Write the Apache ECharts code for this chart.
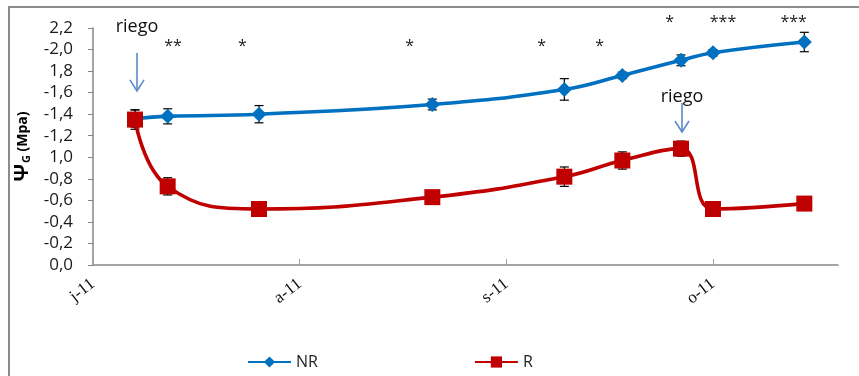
<!DOCTYPE html>
<html>
<head>
<meta charset="utf-8">
<script src="https://cdn.jsdelivr.net/npm/echarts@6/dist/echarts.min.js"></script>
<style>
  html, body { margin: 0; padding: 0; background: #fff; }
  #chart { width: 859px; height: 376px; }
</style>
</head>
<body>
<div id="chart"></div>
<script>
// Sampling dates, as days counted from 1 July 2011
const days = [6.3, 11.2, 24.9, 50.9, 70.7, 79.4, 88.2, 93.0, 106.7];

// Stem water potential (shown as positive MPa) and its error
const nrValues = [1.36, 1.38, 1.40, 1.49, 1.63, 1.76, 1.90, 1.97, 2.07];
const nrErrors = [0.08, 0.07, 0.08, 0.05, 0.10, 0.03, 0.05, 0.03, 0.09];
const rValues  = [1.35, 0.73, 0.52, 0.63, 0.82, 0.97, 1.08, 0.52, 0.57];
const rErrors  = [0.09, 0.08, 0.03, 0.03, 0.09, 0.08, 0.07, 0.03, 0.03];

// Month ticks (days from 1 July) and their labels
const monthTicks = [0, 31, 62, 93];
const monthLabels = ['j-11', 'a-11', 's-11', 'o-11'];

// Y tick labels, from 0 upwards in steps of 0.2
const yTickLabels = ['0,0', '-0,2', '-0,4', '-0,6', '-0,8', '1,0', '-1,2', '-1,4', '-1,6', '1,8', '-2,0', '2,2'];

// Significance marks: [day, level, text]
const sigMarks = [
  [12.0, 2.033, '**'],
  [22.4, 2.033, '*'],
  [47.5, 2.033, '*'],
  [67.3, 2.033, '*'],
  [76.0, 2.033, '*'],
  [86.5, 2.247, '*'],
  [94.5, 2.247, '***'],
  [105.1, 2.247, '***']
];

// Irrigation events: [day, arrow top, arrow tip, label level]
const irrigation = [
  [6.6, 1.968, 1.616, 2.21],
  [88.35, 1.504, 1.235, 1.56]
];

const SANS = '"Open Sans", sans-serif';
const SERIF = '"Liberation Serif", serif';
const BLUE = '#0070C0';
const RED = '#C00000';

function errorData(values, errors) {
  return days.map((d, i) => [d, values[i] - errors[i], values[i] + errors[i]]);
}

function renderErrorBar(params, api) {
  const x = api.value(0);
  const lo = api.coord([x, api.value(1)]);
  const hi = api.coord([x, api.value(2)]);
  const cap = 4.5;
  const style = { stroke: '#000', lineWidth: 1.2 };
  return {
    type: 'group',
    children: [
      { type: 'line', shape: { x1: lo[0], y1: lo[1], x2: hi[0], y2: hi[1] }, style },
      { type: 'line', shape: { x1: lo[0] - cap, y1: lo[1], x2: lo[0] + cap, y2: lo[1] }, style },
      { type: 'line', shape: { x1: hi[0] - cap, y1: hi[1], x2: hi[0] + cap, y2: hi[1] }, style }
    ]
  };
}

function renderSig(params, api) {
  const p = api.coord([api.value(0), api.value(1)]);
  return {
    type: 'text',
    x: p[0], y: p[1],
    style: {
      text: sigMarks[params.dataIndex][2],
      fill: '#222', font: '16px ' + SANS,
      align: 'center', verticalAlign: 'middle'
    }
  };
}

function renderIrrigation(params, api) {
  const x = api.value(0);
  const top = api.coord([x, api.value(1)]);
  const tip = api.coord([x, api.value(2)]);
  const lab = api.coord([x, api.value(3)]);
  const arrowStyle = { stroke: '#5B8BC9', lineWidth: 1.6, fill: null };
  return {
    type: 'group',
    children: [
      { type: 'line', shape: { x1: top[0], y1: top[1], x2: tip[0], y2: tip[1] }, style: arrowStyle },
      { type: 'polyline', shape: { points: [[tip[0] - 7, tip[1] - 11], [tip[0], tip[1]], [tip[0] + 7, tip[1] - 11]] }, style: arrowStyle },
      { type: 'text', x: lab[0], y: lab[1], style: {
          text: 'riego', fill: '#111', font: '18px ' + SANS,
          align: 'center', verticalAlign: 'middle' } }
    ]
  };
}

const chart = echarts.init(document.getElementById('chart'), null, { renderer: 'canvas' });

chart.setOption({
  backgroundColor: '#fff',
  animation: false,
  graphic: [{
    type: 'rect',
    shape: { x: 9, y: 7, width: 870, height: 400 },
    style: { fill: null, stroke: '#8c8c8c', lineWidth: 2 },
    silent: true
  }],
  grid: { left: 93, right: 21, top: 28, bottom: 111 },
  legend: {
    data: ['NR', 'R'],
    left: 242, top: 349,
    itemWidth: 43, itemHeight: 14, itemGap: 156,
    textStyle: { fontFamily: SANS, fontSize: 16, color: '#222' }
  },
  xAxis: {
    type: 'value',
    min: 0, max: 111.75,
    splitLine: { show: false },
    axisLine: { show: true, lineStyle: { color: '#868686', width: 1.5 } },
    axisTick: { show: true, inside: true, length: 6, customValues: monthTicks, lineStyle: { color: '#a0a0a0' } },
    axisLabel: {
      customValues: monthTicks,
      rotate: 38, margin: 17,
      fontFamily: SERIF, fontSize: 17, color: '#111',
      formatter: v => monthLabels[monthTicks.indexOf(v)]
    }
  },
  yAxis: {
    type: 'value',
    min: 0, max: 2.2, interval: 0.2,
    splitLine: { show: false },
    axisLine: { show: true, lineStyle: { color: '#868686', width: 1.5 } },
    axisTick: { show: true, length: 5, lineStyle: { color: '#868686' } },
    axisLabel: {
      margin: 20,
      fontFamily: SANS, fontSize: 17, color: '#1a1a1a',
      formatter: v => yTickLabels[Math.round(v / 0.2)]
    },
    name: '{psi|Ψ}{sub|G}{unit| (Mpa)}',
    nameLocation: 'middle',
    nameRotate: 90,
    nameGap: 52,
    nameTextStyle: {
      rich: {
        psi: { fontFamily: SANS, fontWeight: 'bold', fontSize: 20, color: '#000' },
        sub: { fontFamily: SANS, fontWeight: 'bold', fontSize: 11, color: '#000', verticalAlign: 'bottom', padding: [4, 0, 0, 1] },
        unit: { fontFamily: SANS, fontWeight: 'bold', fontSize: 14, color: '#000' }
      }
    }
  },
  series: [
    {
      type: 'custom', name: 'errNR', z: 1, silent: true,
      renderItem: renderErrorBar, data: errorData(nrValues, nrErrors)
    },
    {
      type: 'custom', name: 'errR', z: 1, silent: true,
      renderItem: renderErrorBar, data: errorData(rValues, rErrors)
    },
    {
      name: 'NR', type: 'line', z: 2,
      data: days.map((d, i) => [d, nrValues[i]]),
      smooth: 0.45,
      symbol: 'diamond', symbolSize: 15,
      lineStyle: { color: BLUE, width: 3.6 },
      itemStyle: { color: BLUE }
    },
    {
      name: 'R', type: 'line', z: 3,
      data: days.map((d, i) => [d, rValues[i]]),
      smooth: 0.45,
      symbol: 'rect', symbolSize: 16,
      lineStyle: { color: RED, width: 3.6 },
      itemStyle: { color: RED }
    },
    {
      type: 'custom', name: 'sig', z: 4, silent: true, clip: false,
      renderItem: renderSig, data: sigMarks.map(m => [m[0], m[1]])
    },
    {
      type: 'custom', name: 'riego', z: 4, silent: true, clip: false,
      renderItem: renderIrrigation, data: irrigation
    }
  ]
});
</script>
</body>
</html>
